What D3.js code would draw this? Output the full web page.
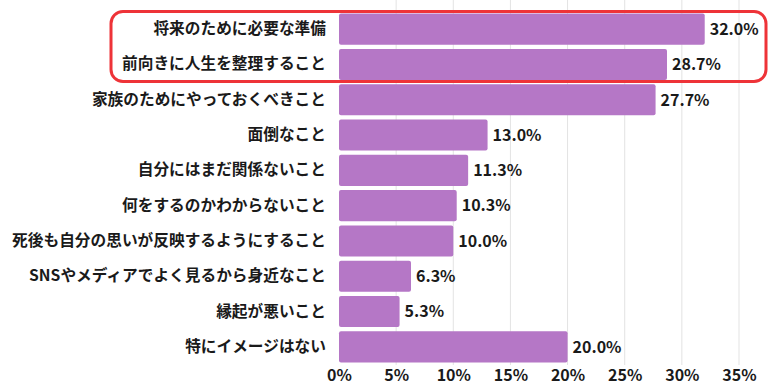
<!DOCTYPE html>
<html><head><meta charset="utf-8">
<script src="https://cdn.jsdelivr.net/npm/d3@7"></script>
<style>body{margin:0;background:#fff}svg{display:block}</style>
</head><body>
<script>
const categories = ["将来のために必要な準備","前向きに人生を整理すること","家族のためにやっておくべきこと","面倒なこと","自分にはまだ関係ないこと","何をするのかわからないこと","死後も自分の思いが反映するようにすること","SNSやメディアでよく見るから身近なこと","縁起が悪いこと","特にイメージはない"];
const values = [32.0,28.7,27.7,13.0,11.3,10.3,10.0,6.3,5.3,20.0];
const ticks = [0,5,10,15,20,25,30,35];

const W=770,H=392;
const svg=d3.select("body").append("svg").attr("width",W).attr("height",H);
const font="'Noto Sans CJK JP','Noto Sans',sans-serif";
const x=d3.scaleLinear().domain([0,35]).range([339,739]);
const y=d3.scaleBand().domain(categories).range([11.5,364.5]).paddingInner(0.12).paddingOuter(0.06);

svg.append("g").selectAll("line").data(ticks.slice(1)).join("line")
 .attr("x1",d=>x(d)).attr("x2",d=>x(d)).attr("y1",0).attr("y2",365)
 .attr("stroke","#e3e3e3").attr("stroke-width",1);

svg.append("g").selectAll("rect").data(values).join("rect")
 .attr("x",x(0)).attr("y",(d,i)=>y(categories[i])).attr("width",d=>x(d)-x(0))
 .attr("height",y.bandwidth()).attr("rx",2).attr("fill","#b577c6");

svg.append("g").selectAll("text").data(values).join("text")
 .attr("x",d=>x(d)+5).attr("y",(d,i)=>y(categories[i])+y.bandwidth()/2)
 .attr("dy","0.36em").attr("font-family",font).attr("font-weight","bold").attr("font-size","16px")
 .attr("fill","#1a1a1a").text(d=>d.toFixed(1)+"%");

const ya=d3.axisLeft(y).tickSize(0).tickPadding(13);
const gy=svg.append("g").attr("transform",`translate(${x(0)},0)`).call(ya);
gy.select(".domain").remove();
gy.selectAll("text").attr("font-family",font).attr("font-weight","bold").attr("font-size","15.7px").attr("fill","#1a1a1a");

const xa=d3.axisBottom(x).tickValues(ticks).tickFormat(d=>d+"%").tickSize(0).tickPadding(5);
const gx=svg.append("g").attr("transform","translate(0,365)").call(xa);
gx.select(".domain").remove();
gx.selectAll("text").attr("font-family",font).attr("font-weight","bold").attr("font-size","16px").attr("fill","#1a1a1a");

svg.append("rect").attr("x",111).attr("y",11.5).attr("width",655).attr("height",70)
 .attr("rx",12).attr("fill","none").attr("stroke","#ee3338").attr("stroke-width",3);
</script>
</body></html>
